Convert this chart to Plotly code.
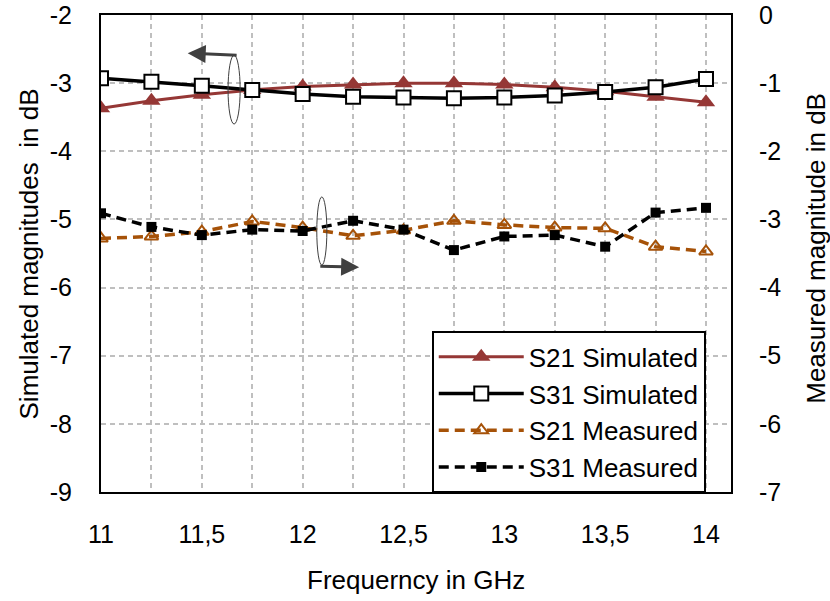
import plotly.graph_objects as go

# Frequency points (GHz)
freq = [11, 11.25, 11.5, 11.75, 12, 12.25, 12.5, 12.75, 13, 13.25, 13.5, 13.75, 14]

# Simulated magnitudes (left axis, dB)
s21_sim = [-3.37, -3.26, -3.17, -3.10, -3.05, -3.02, -3.00, -3.00, -3.02, -3.06, -3.12, -3.20, -3.28]
s31_sim = [-2.93, -2.98, -3.04, -3.10, -3.16, -3.20, -3.21, -3.22, -3.21, -3.18, -3.13, -3.06, -2.94]

# Measured magnitudes (right axis, dB)
s21_meas = [-3.28, -3.25, -3.18, -3.03, -3.12, -3.24, -3.16, -3.02, -3.08, -3.12, -3.13, -3.40, -3.47]
s31_meas = [-2.91, -3.11, -3.23, -3.15, -3.17, -3.02, -3.15, -3.45, -3.25, -3.23, -3.40, -2.90, -2.83]

# tick labels (x grid every 0.25, label every 0.5)
x_tickvals = [11, 11.25, 11.5, 11.75, 12, 12.25, 12.5, 12.75, 13, 13.25, 13.5, 13.75, 14]
x_ticktext = ["11", "", "11,5", "", "12", "", "12,5", "", "13", "", "13,5", "", "14"]
y1_tickvals = [-9, -8, -7, -6, -5, -4, -3, -2]
y1_ticktext = ["-9", "-8", "-7", "-6", "-5", "-4", "-3", "-2"]
y2_tickvals = [-7, -6, -5, -4, -3, -2, -1, 0]
y2_ticktext = ["-7", "-6", "-5", "-4", "-3", "-2", "-1", "0"]

FONT = "Liberation Sans, Arial, sans-serif"
RED = "#953735"
ORANGE = "#A65208"
GRID = "#BFBFBF"

fig = go.Figure()

fig.add_trace(go.Scatter(
    x=freq, y=s21_sim, name="S21 Simulated", mode="lines+markers",
    line=dict(color=RED, width=3),
    marker=dict(symbol="triangle-up", size=16, color=RED),
))
fig.add_trace(go.Scatter(
    x=freq, y=s31_sim, name="S31 Simulated", mode="lines+markers",
    line=dict(color="black", width=3.5),
    marker=dict(symbol="square", size=14, color="white", line=dict(color="black", width=2)),
))
fig.add_trace(go.Scatter(
    x=freq, y=s21_meas, name="S21 Measured", mode="lines+markers", yaxis="y2",
    line=dict(color=ORANGE, width=3.5, dash="10px,6px"),
    marker=dict(symbol="triangle-up-open", size=12, color=ORANGE, line=dict(width=2)),
))
fig.add_trace(go.Scatter(
    x=freq, y=s31_meas, name="S31 Measured", mode="lines+markers", yaxis="y2",
    line=dict(color="black", width=3.5, dash="10px,6px"),
    marker=dict(symbol="square", size=10, color="black"),
))

# ellipses and arrows indicating which axis each pair belongs to
fig.add_shape(type="circle", xref="x", yref="y", x0=11.63, x1=11.69, y0=-2.59, y1=-3.60,
              line=dict(color="#404040", width=1))
fig.add_shape(type="circle", xref="x", yref="y", x0=12.07, x1=12.12, y0=-4.67, y1=-5.67,
              line=dict(color="#404040", width=1))
fig.add_annotation(x=11.43, y=-2.56, ax=11.68, ay=-2.59, xref="x", yref="y", axref="x", ayref="y",
                   text="", showarrow=True, arrowhead=2, arrowsize=1.2, arrowwidth=3, arrowcolor="#404040")
fig.add_annotation(x=12.28, y=-5.70, ax=12.08, ay=-5.685, xref="x", yref="y", axref="x", ayref="y",
                   text="", showarrow=True, arrowhead=2, arrowsize=1.2, arrowwidth=3, arrowcolor="#404040")

# axis titles
fig.add_annotation(text="Frequerncy in GHz", xref="paper", yref="paper", x=0.5, y=-0.1845,
                   xanchor="center", yanchor="middle", showarrow=False, font=dict(size=26))
fig.add_annotation(text="Simulated magnitudes  in dB", xref="paper", yref="paper", x=-0.1143, y=0.5,
                   xanchor="center", yanchor="middle", textangle=-90, showarrow=False, font=dict(size=26))
fig.add_annotation(text="Measured magnitude in dB", xref="paper", yref="paper", x=1.135, y=0.51,
                   xanchor="center", yanchor="middle", textangle=-90, showarrow=False, font=dict(size=26))

fig.update_layout(
    width=830, height=601,
    margin=dict(l=101, r=99, t=15, b=109, autoexpand=False),
    paper_bgcolor="white", plot_bgcolor="white",
    font=dict(family=FONT, size=25, color="black"),
    showlegend=True,
    legend=dict(x=0.525, y=0.337, xanchor="left", yanchor="top",
                bgcolor="white", bordercolor="black", borderwidth=2,
                font=dict(size=26), tracegroupgap=0, itemwidth=85),
    xaxis=dict(
        range=[11, 14.124], tickvals=x_tickvals, ticktext=x_ticktext,
        showgrid=True, gridcolor=GRID, gridwidth=1.5, griddash="5px,4px",
        showline=True, linecolor="black", linewidth=2, mirror=True,
        zeroline=False, ticks="", ticklabelstandoff=19, automargin=False,
    ),
    yaxis=dict(
        range=[-9, -2], tickvals=y1_tickvals, ticktext=y1_ticktext,
        showgrid=True, gridcolor=GRID, gridwidth=1.5, griddash="5px,4px",
        showline=True, linecolor="black", linewidth=2,
        zeroline=False, ticks="", ticklabelstandoff=22, automargin=False,
    ),
    yaxis2=dict(
        range=[-7, 0], tickvals=y2_tickvals, ticktext=y2_ticktext,
        overlaying="y", side="right",
        showgrid=False, showline=True, linecolor="black", linewidth=2,
        zeroline=False, ticks="", ticklabelstandoff=21, automargin=False,
    ),
)

# remove the browser's default body margin so the figure sits at the page origin
fig.write_html("out.html", config={"displayModeBar": False},
               post_script="document.body.style.margin='0';")
